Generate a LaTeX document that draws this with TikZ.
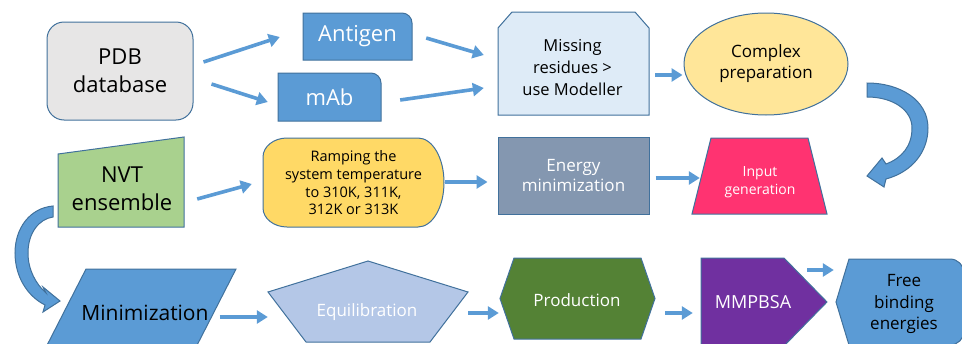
\documentclass[tikz,border=0pt]{standalone}
\usepackage{fontspec}
\setmainfont{Open Sans}
\usetikzlibrary{arrows.meta,shapes.geometric}
\definecolor{bord}{HTML}{41719C}
\definecolor{cblue}{HTML}{5B9BD5}
\definecolor{cpdb}{HTML}{E7E6E6}
\definecolor{cmiss}{HTML}{DEEBF7}
\definecolor{ccomp}{HTML}{FFE699}
\definecolor{cnvt}{HTML}{A9D18E}
\definecolor{cramp}{HTML}{FFD966}
\definecolor{cener}{HTML}{8497B0}
\definecolor{cinp}{HTML}{FF3371}
\definecolor{cequ}{HTML}{B4C7E7}
\definecolor{cprod}{HTML}{548235}
\definecolor{cmmp}{HTML}{7030A0}
\newcommand\fsz[2]{\fontsize{#1}{#2}\selectfont}
\tikzset{
  shp/.style={draw=bord, line width=1},
  box/.style={draw=none, inner sep=0},
  lbl/.style={align=center, inner sep=0},
  wt/.style={text=white},
  arr/.style={draw=cblue, line width=3.6, -{Triangle[length=11pt,width=13pt]}}
}
\begin{document}
\begin{tikzpicture}[x=1pt,y=-1pt]
\useasboundingbox (0,0) rectangle (962,343);
\clip (0,0) rectangle (962,343);

% ---- row 1 ----
\node[shp, fill=cpdb, rounded corners=17, minimum width=146, minimum height=98, inner sep=0, lbl, font=\fsz{22}{28}] (pdb) at (120,71) {PDB\\database};

\draw[shp, fill=cblue] (303,60) -- (303,13) -- (402,13) .. controls (407.5,13) and (412,17.5) .. (412,23) -- (412,60) -- cycle;
\node[box, minimum width=109, minimum height=47, wt, font=\fsz{22}{28}] (antigen) at (357.5,36.5) {Antigen};

\draw[shp, fill=cblue] (278,121) -- (278,73) -- (371,73) .. controls (376.5,73) and (381,77.5) .. (381,83) -- (381,121) -- cycle;
\node[box, minimum width=103, minimum height=48, wt, font=\fsz{22}{28}] (mab) at (329.5,97) {mAb};

\draw[shp, fill=cmiss] (498,115) -- (498,28) -- (512,12) -- (635,12) -- (649,28) -- (649,115) -- cycle;
\node[box, minimum width=151, minimum height=103] (missing) at (573.5,63.5) {};
\node[lbl, font=\fsz{16.5}{22}] (missing-t) at (572.5,68) {Missing\\residues >\\use Modeller};

\node[shp, fill=ccomp, ellipse, minimum width=164, minimum height=102, inner sep=0, lbl, font=\fsz{17}{21}] (complex) at (766,64) {Complex\\preparation};

% curved block arrow (right)
\draw[shp, fill=cblue] (867,83) .. controls (900,83) and (928,100) .. (928,128) .. controls (928,152) and (912,172) .. (886,179) -- (884,187) -- (867,176) -- (882,158) -- (886,164) .. controls (902,158) and (912,146) .. (912,128) .. controls (912,110) and (893,97) .. (867,97) -- cycle;

% ---- row 2 ----
\draw[shp, fill=cnvt] (58,154) -- (184,137) -- (184,227) -- (58,227) -- cycle;
\node[box, minimum width=126, minimum height=90] (nvt) at (121,182) {};
\node[lbl, font=\fsz{22}{28}] (nvt-t) at (122,189) {NVT\\ensemble};

\draw[shp, fill=cramp] (287,138) -- (418,138) .. controls (432.4,138) and (444,157.7) .. (444,182.5) .. controls (444,207.3) and (432.4,227) .. (418,227) -- (287,227) .. controls (273.8,227) and (263,218.5) .. (263,208) -- (263,157) .. controls (263,146.5) and (273.8,138) .. (287,138) -- cycle;
\node[box, minimum width=181, minimum height=89] (ramp) at (353.5,182.5) {};
\node[lbl, font=\fsz{14.5}{17.7}] (ramp-t) at (353.5,183) {Ramping the\\system temperature\\to 310K, 311K,\\312K or 313K};

\node[shp, fill=cener, minimum width=151, minimum height=77, inner sep=0, lbl, wt, font=\fsz{17}{20}] (energy) at (573.5,175.5) {Energy\\minimization};

\draw[shp, fill=cinp] (692,214) -- (711,138) -- (808,138) -- (827,214) -- cycle;
\node[box, minimum width=135, minimum height=76] (input) at (759.5,176) {};
\node[lbl, wt, font=\fsz{14}{18}] (input-t) at (760,182) {Input\\generation};

% curved block arrow (left)
\draw[shp, fill=cblue] (53,206) .. controls (30,208) and (15,228) .. (15,253) .. controls (15,276) and (27,296) .. (45,305) -- (43,312) -- (60,301) -- (43,287) -- (46,293) .. controls (36,284) and (28,270) .. (28,253) .. controls (28,233) and (39,219) .. (53,217) -- cycle;

% ---- row 3 ----
\draw[shp, fill=cblue] (86,269) -- (236,269) -- (191,357) -- (41,357) -- cycle;
\node[box, minimum width=188, minimum height=88] (minim) at (138.5,313) {};
\node[lbl, font=\fsz{21}{26}] (minim-t) at (145,313) {Minimization};

\draw[shp, fill=cequ] (368,261) -- (468,292) -- (430,342) -- (306,342) -- (268,292) -- cycle;
\node[box, minimum width=200, minimum height=81] (equil) at (368,301.5) {};
\node[lbl, wt, font=\fsz{17}{21}] (equil-t) at (367,312) {Equilibration};

\draw[shp, fill=cprod] (500,298.5) -- (514,258) -- (641,258) -- (655,298.5) -- (641,339) -- (514,339) -- cycle;
\node[box, minimum width=155, minimum height=81] (prod) at (577.5,298.5) {};
\node[lbl, wt, font=\fsz{17}{21}] (prod-t) at (577,300) {Production};

\draw[shp, fill=cmmp] (701,258) -- (784,258) -- (827,302) -- (784,346) -- (701,346) -- cycle;
\node[box, minimum width=126, minimum height=88] (mmpbsa) at (764,302) {};
\node[lbl, wt, font=\fsz{18}{22}] (mmpbsa-t) at (753,302) {MMPBSA};

\draw[shp, fill=cblue] (836,302) -- (849,259) -- (950,259) .. controls (957.7,259) and (964,265.3) .. (964,273) -- (964,331) .. controls (964,338.7) and (957.7,345) .. (950,345) -- (849,345) -- cycle;
\node[box, minimum width=128, minimum height=86] (free) at (900,302) {};
\node[lbl, font=\fsz{17}{21.7}] (free-t) at (904,304) {Free\\binding\\energies};

% ---- connectors ----
\draw[arr] ([shift={(10,-9)}]pdb.east) -- ([shift={(-23,0.5)}]antigen.west);
\draw[arr] ([shift={(18,13)}]pdb.east) -- ([shift={(-10,5)}]mab.west);
\draw[arr] ([shift={(14,1.5)}]antigen.east) -- ([shift={(-14,-8.5)}]missing.west);
\draw[arr] ([shift={(19,3)}]mab.east) -- ([shift={(-14,24.5)}]missing.west);
\draw[arr] ([shift={(6,11.5)}]missing.east) -- ([shift={(-1,11)}]complex.west);
\draw[arr] ([shift={(13,17)}]nvt.east) -- ([shift={(-11,1.5)}]ramp.west);
\draw[arr] ([shift={(1,-0.5)}]ramp.east) -- ([shift={(-10,6.5)}]energy.west);
\draw[arr] ([shift={(6,2.5)}]energy.east) -- ([shift={(8,2)}]input.west);
\draw[arr] ([shift={(-13,4)}]minim.east) -- ([shift={(0,15.5)}]equil.west);
\draw[arr] ([shift={(0,11.5)}]equil.east) -- ([shift={(-1,14.5)}]prod.west);
\draw[arr] ([shift={(10,14.5)}]prod.east) -- ([shift={(-8,11)}]mmpbsa.west);
\draw[arr] ([shift={(-20,-32)}]mmpbsa.east) -- ([shift={(-2,-32)}]free.west);
\end{tikzpicture}
\end{document}
